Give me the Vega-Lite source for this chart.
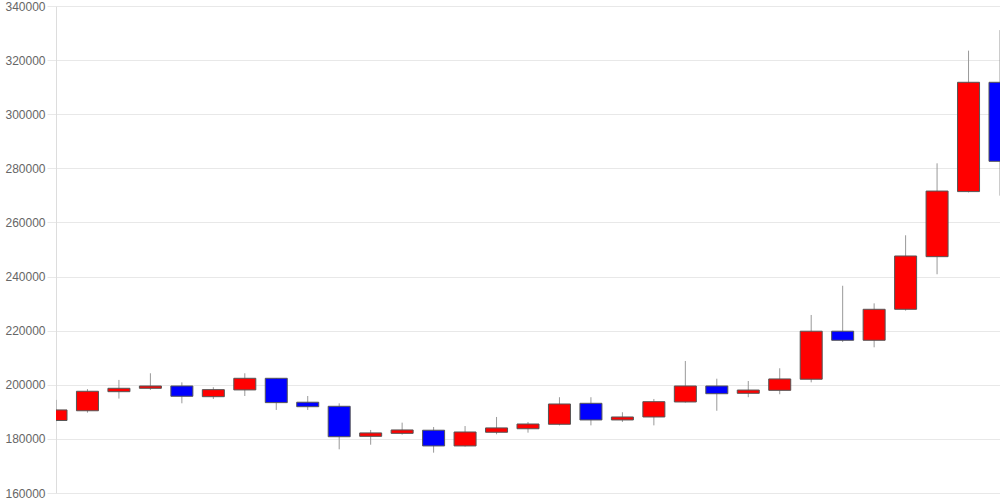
{
  "$schema": "https://vega.github.io/schema/vega-lite/v6.json",
  "width": 944,
  "height": 487,
  "autosize": {"type": "none"},
  "padding": {"left": 56, "top": 6, "right": 0, "bottom": 7},
  "background": "#ffffff",
  "config": {"view": {"stroke": null}},
  "data": {
    "values": [
      {"i": 0, "o": 186800, "h": 194400, "l": 186500, "c": 190700},
      {"i": 1, "o": 190400, "h": 198400, "l": 189700, "c": 197600},
      {"i": 2, "o": 197450, "h": 201800, "l": 194900, "c": 198700},
      {"i": 3, "o": 198700, "h": 204250, "l": 198100, "c": 199550},
      {"i": 4, "o": 199550, "h": 200900, "l": 193150, "c": 195750},
      {"i": 5, "o": 195600, "h": 199100, "l": 194750, "c": 198200},
      {"i": 6, "o": 198100, "h": 204250, "l": 195850, "c": 202400},
      {"i": 7, "o": 202400, "h": 202500, "l": 190700, "c": 193400},
      {"i": 8, "o": 193550, "h": 195850, "l": 190700, "c": 191900},
      {"i": 9, "o": 192050, "h": 193150, "l": 176150, "c": 180800},
      {"i": 10, "o": 180950, "h": 183300, "l": 177850, "c": 182200},
      {"i": 11, "o": 182050, "h": 186000, "l": 181550, "c": 183300},
      {"i": 12, "o": 183200, "h": 184400, "l": 174900, "c": 177400},
      {"i": 13, "o": 177400, "h": 184750, "l": 177150, "c": 182550},
      {"i": 14, "o": 182450, "h": 188100, "l": 181700, "c": 184050},
      {"i": 15, "o": 183750, "h": 186250, "l": 182300, "c": 185500},
      {"i": 16, "o": 185400, "h": 195400, "l": 185000, "c": 192900},
      {"i": 17, "o": 193150, "h": 195400, "l": 185000, "c": 187000},
      {"i": 18, "o": 187000, "h": 189850, "l": 186250, "c": 188100},
      {"i": 19, "o": 188100, "h": 194750, "l": 185000, "c": 193750},
      {"i": 20, "o": 193650, "h": 208800, "l": 193400, "c": 199550},
      {"i": 21, "o": 199550, "h": 202250, "l": 190400, "c": 196700},
      {"i": 22, "o": 196850, "h": 201400, "l": 195400, "c": 198050},
      {"i": 23, "o": 197950, "h": 206100, "l": 196500, "c": 202150},
      {"i": 24, "o": 202050, "h": 225800, "l": 200900, "c": 219800},
      {"i": 25, "o": 219800, "h": 236600, "l": 215800, "c": 216450},
      {"i": 26, "o": 216450, "h": 230100, "l": 213850, "c": 227900},
      {"i": 27, "o": 227900, "h": 255250, "l": 227400, "c": 247600},
      {"i": 28, "o": 247350, "h": 281850, "l": 240850, "c": 271600},
      {"i": 29, "o": 271400, "h": 323500, "l": 271100, "c": 311800},
      {"i": 30, "o": 311800, "h": 331100, "l": 269900, "c": 282600}
    ]
  },
  "encoding": {
    "x": {
      "field": "i",
      "type": "quantitative",
      "scale": {"domain": [0, 30], "nice": false, "zero": false, "padding": 0},
      "axis": null
    }
  },
  "layer": [
    {
      "mark": {"type": "rule", "color": "#999999", "strokeWidth": 1, "clip": true},
      "encoding": {
        "y": {
          "field": "l",
          "type": "quantitative",
          "scale": {"domain": [160000, 340000], "nice": false, "zero": false},
          "axis": {
            "values": [160000, 180000, 200000, 220000, 240000, 260000, 280000, 300000, 320000, 340000],
            "format": "d",
            "title": null,
            "grid": true,
            "gridColor": "#e8e8e8",
            "gridWidth": 1,
            "domain": true,
            "domainColor": "#dddddd",
            "ticks": true,
            "tickColor": "#e8e8e8",
            "tickSize": 9,
            "labelPadding": 2,
            "labelColor": "#666666",
            "labelFont": "Liberation Sans",
            "labelFontSize": 12,
            "labelFlush": false
          }
        },
        "y2": {"field": "h"}
      }
    },
    {
      "mark": {"type": "bar", "size": 22, "stroke": "#555555", "strokeWidth": 1, "clip": true},
      "encoding": {
        "y": {"field": "o", "type": "quantitative"},
        "y2": {"field": "c"},
        "fill": {
          "condition": {"test": "datum.c >= datum.o", "value": "#ff0000"},
          "value": "#0000ff"
        }
      }
    }
  ]
}
